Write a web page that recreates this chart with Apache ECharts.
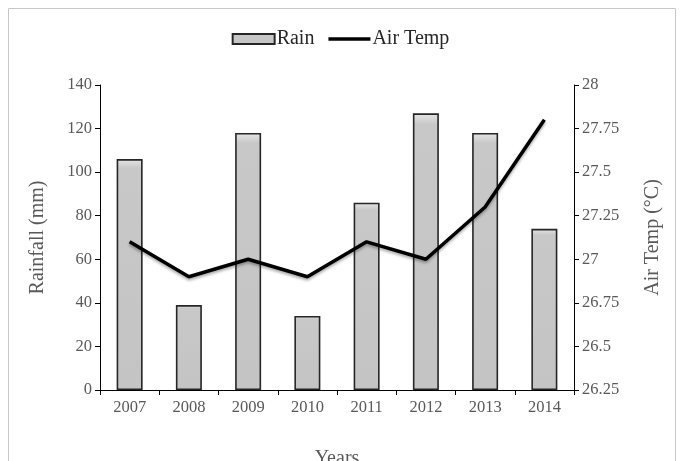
<!DOCTYPE html>
<html><head><meta charset="utf-8">
<script src="https://cdn.jsdelivr.net/npm/echarts@6/dist/echarts.min.js"></script>
<style>html,body{margin:0;padding:0;background:#fff}#c{width:681px;height:461px}</style>
</head><body><div id="c"></div>
<script>
const years = ['2007','2008','2009','2010','2011','2012','2013','2014'];
const rain = [106, 39, 118, 34, 86, 127, 118, 74];
const airTemp = [27.1, 26.9, 27.0, 26.9, 27.1, 27.0, 27.3, 27.8];

const font = 'Liberation Serif';
const txt = '#595959';
const chart = echarts.init(document.getElementById('c'));
chart.setOption({
  animation: false,
  textStyle: {fontFamily: font},
  graphic: [{type:'rect', shape:{x:8.5,y:8.5,width:667,height:470}, style:{fill:'none', stroke:'#c8c8c8', lineWidth:1}, silent:true}],
  legend: {
    top: 24, left: 'center', itemGap: 14, itemWidth: 42, itemHeight: 10,
    textStyle: {fontFamily: font, fontSize: 20, color: '#262626', padding:[0,0,0,-3]},
    data: [
      {name:'Rain', icon:'rect'},
      {name:'Air Temp', icon:'path://M0,0 L48,0 L48,4 L0,4 Z', symbolKeepAspect: true, itemStyle:{color:'#000', borderWidth:0}}
    ]
  },
  grid: {left: 100, right: 107, top: 85, bottom: 71, outerBoundsMode: 'none', containLabel: false},
  xAxis: {
    type: 'category', data: years,
    name: 'Years', nameLocation: 'middle', nameGap: 59,
    nameTextStyle: {fontFamily: font, fontSize: 20, color: txt},
    axisLine: {lineStyle: {color: '#000', width: 1}},
    axisTick: {show: true, alignWithLabel: false, length: 5, lineStyle:{color:'#000'}},
    axisLabel: {fontFamily: font, fontSize: 16.5, color: txt, margin: 9}
  },
  yAxis: [{
    type: 'value', min: 0, max: 140, interval: 20,
    name: 'Rainfall (mm)', nameLocation: 'middle', nameGap: 52, nameRotate: 90,
    nameTextStyle: {fontFamily: font, fontSize: 20, color: txt},
    axisLine: {show: true, lineStyle: {color: '#000'}},
    axisTick: {show: true, length: 5, lineStyle:{color:'#000'}},
    axisLabel: {fontFamily: font, fontSize: 16.5, color: txt, margin: 8},
    splitLine: {show: false}
  }, {
    type: 'value', min: 26.25, max: 28, interval: 0.25, position: 'right',
    name: 'Air Temp (°C)', nameLocation: 'middle', nameGap: 69, nameRotate: 90,
    nameTextStyle: {fontFamily: font, fontSize: 20, color: txt},
    axisLine: {show: true, lineStyle: {color: '#000'}},
    axisTick: {show: true, length: 5, lineStyle:{color:'#000'}},
    axisLabel: {fontFamily: font, fontSize: 16.5, color: txt, margin: 8},
    splitLine: {show: false}
  }],
  series: [{
    name: 'Rain', type: 'bar', data: rain, barWidth: 26,
    itemStyle: {
      color: new echarts.graphic.LinearGradient(0,0,0,1,[{offset:0,color:'#e6e6e6'},{offset:0.04,color:'#c8c8c8'},{offset:1,color:'#c4c4c4'}]),
      borderColor: '#262626', borderWidth: 1.6
    }
  }, {
    name: 'Air Temp', type: 'line', yAxisIndex: 1, data: airTemp,
    symbol: 'none', smooth: false,
    lineStyle: {color: '#000', width: 3.5, shadowColor: 'rgba(0,0,0,0.35)', shadowBlur: 3, shadowOffsetY: 2},
    itemStyle: {color: '#000'}
  }]
});
</script></body></html>
